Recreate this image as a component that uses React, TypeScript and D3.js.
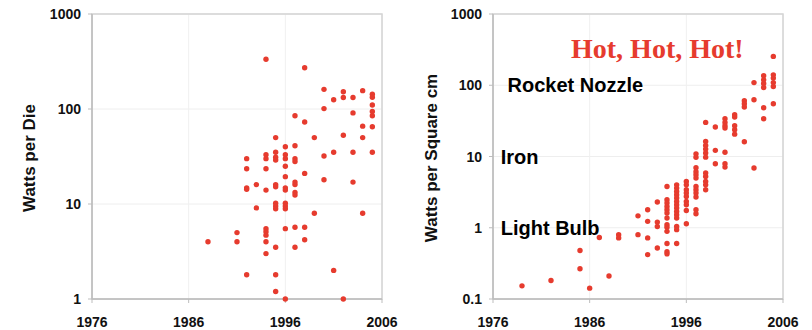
import React from "react";
import * as d3 from "d3";

const yearTicks = [1976, 1986, 1996, 2006];
const dieTicks = [1, 10, 100, 1000];
const densityTicks = [0.1, 1, 10, 100, 1000];
const densityTickLabels = ["0.1", "1", "10", "100", "1000"];

const wattsPerDie: [number, number][] = [
  [1994, 334], [1998, 272],
  [2000, 161], [2002, 152], [2004, 156], [2005, 143], [2005, 133], [2001, 125], [2002, 132], [2003, 132],
  [2005, 110], [2000, 101], [2005, 94], [2003, 91], [2005, 85], [1997, 85], [1998, 73], [2004, 66], [2005, 65],
  [1995, 50], [1999, 50], [2002, 53], [2004, 50],
  [1996, 40], [1997, 41],
  [1995, 35], [2000, 32], [2001, 35], [2003, 35], [2005, 35],
  [1992, 30], [1994, 33], [1994, 30], [1995, 31], [1995, 29], [1996, 33], [1996, 30], [1997, 30], [1997, 28],
  [1996, 25], [1992, 23.5], [1994, 23.5],
  [1998, 21], [1996, 19.4], [2000, 18], [2003, 17],
  [1993, 16], [1992, 14.8], [1992, 14.3], [1994, 14], [1995, 16], [1995, 15.2], [1996, 14.8], [1996, 14],
  [1997, 17], [1997, 16], [1997, 13.2], [1997, 12.4],
  [1993, 9.1], [1995, 10.2], [1995, 9.5], [1995, 8.9], [1996, 10.2], [1996, 9.5], [1996, 8.9], [1999, 8], [2004, 8],
  [1991, 5], [1991, 4], [1988, 4],
  [1994, 5.5], [1994, 5.1], [1994, 4.7], [1994, 4], [1994, 3], [1995, 3.5], [1996, 5.5], [1997, 5.7], [1998, 5.7],
  [1997, 3.5], [1998, 4.2],
  [1992, 1.8], [1995, 1.8], [2001, 2], [1995, 1.2], [1996, 1], [2002, 1],
];

const wattsPerSqCm: [number, number][] = [
  [1979, 0.153], [1982, 0.182], [1985, 0.48], [1985, 0.266], [1986, 0.142], [1987, 0.73], [1988, 0.21],
  [1989, 0.8], [1989, 0.72],
  [1991, 1.47], [1991, 0.8],
  [1992, 1.79], [1992, 1.23], [1992, 0.72], [1992, 0.42],
  [1993, 2.3], [1993, 1.2], [1993, 1.04], [1993, 0.52],
  [1994, 3.8], [1994, 2.47], [1994, 2.22], [1994, 1.99], [1994, 1.79], [1994, 1.61], [1994, 1.37], [1994, 1.1],
  [1994, 1.02], [1994, 0.89], [1994, 0.6], [1994, 0.46], [1994, 0.43],
  [1995, 4.0], [1995, 3.6], [1995, 3.23], [1995, 2.9], [1995, 2.61], [1995, 2.34], [1995, 2.1], [1995, 1.89],
  [1995, 1.69], [1995, 1.52], [1995, 1.37], [1995, 1.04], [1995, 0.94], [1995, 0.6],
  [1996, 4.47], [1996, 4.0], [1996, 3.42], [1996, 3.07], [1996, 2.75], [1996, 2.34], [1996, 2.1], [1996, 1.75], [1996, 1.14],
  [1997, 10.9], [1997, 9.75], [1997, 6.95], [1997, 6.11], [1997, 5.55], [1997, 4.99], [1997, 3.8], [1997, 3.41],
  [1997, 3.07], [1997, 2.7], [1997, 1.79], [1997, 1.57],
  [1998, 30.1], [1998, 16.3], [1998, 14.3], [1998, 12.7], [1998, 11.2], [1998, 9.8], [1998, 5.86], [1998, 5.25],
  [1998, 4.47], [1998, 4.0], [1998, 3.41],
  [1999, 25.9], [1999, 12.2], [1999, 7.91],
  [2000, 33.9], [2000, 30.1], [2000, 27.0], [2000, 25.1], [2000, 11.5], [2000, 7.91], [2000, 7.1],
  [2001, 38.5], [2001, 35.8], [2001, 27.0], [2001, 23.7], [2001, 20.6],
  [2002, 60.6], [2002, 55], [2002, 49.4], [2002, 16.1],
  [2003, 109], [2003, 62.6], [2003, 6.9],
  [2004, 136], [2004, 119], [2004, 106], [2004, 93], [2004, 48.3], [2004, 33.9],
  [2005, 254], [2005, 140], [2005, 126], [2005, 109], [2005, 96], [2005, 55],
];

const annotations = [
  { text: "Rocket Nozzle", year: 1977.5, value: 100 },
  { text: "Iron", year: 1976.8, value: 10 },
  { text: "Light Bulb", year: 1976.8, value: 1 },
];

const RED = "#e63b2e";
const FONT = "'Liberation Sans', Arial, Helvetica, sans-serif";

type PanelProps = {
  x0: number;
  x1: number;
  yDomain: [number, number];
  ticks: number[];
  tickLabels: string[];
  data: [number, number][];
  title: string;
  titleX: number;
  children?: (x: any, y: any) => React.ReactNode;
};

function Panel({ x0, x1, yDomain, ticks, tickLabels, data, title, titleX, children }: PanelProps) {
  const top = 14;
  const bottom = 299;
  const x = d3.scaleLinear().domain([1976, 2006]).range([x0, x1]);
  const y = d3.scaleLog().domain(yDomain).range([bottom, top]);
  return (
    <g>
      {ticks.map((t) => (
        <line key={"gy" + t} x1={x0} x2={x1} y1={y(t)} y2={y(t)} stroke="#eeeeee" strokeWidth={1} />
      ))}
      {yearTicks.map((t) => (
        <line key={"gx" + t} x1={x(t)} x2={x(t)} y1={top} y2={bottom} stroke="#f0f0f0" strokeWidth={1} />
      ))}
      <rect x={x0} y={top} width={x1 - x0} height={bottom - top} fill="none" stroke="#d4d4d4" strokeWidth={1.5} />
      <line x1={x0} x2={x1} y1={bottom} y2={bottom} stroke="#bdbdbd" strokeWidth={1.5} />
      <line x1={x0} x2={x0} y1={top} y2={bottom} stroke="#bdbdbd" strokeWidth={1.5} />
      {ticks.map((t, i) => (
        <g key={"ty" + t}>
          <line x1={x0 - 4} x2={x0} y1={y(t)} y2={y(t)} stroke="#bdbdbd" />
          <text
            x={x0 - 11}
            y={y(t)}
            textAnchor="end"
            dominantBaseline="central"
            fontFamily={FONT}
            fontWeight="bold"
            fontSize={14}
            fill="#111"
          >
            {tickLabels[i]}
          </text>
        </g>
      ))}
      {yearTicks.map((t) => (
        <g key={"tx" + t}>
          <line x1={x(t)} x2={x(t)} y1={bottom} y2={bottom + 4} stroke="#bdbdbd" />
          <text x={x(t)} y={326.5} textAnchor="middle" fontFamily={FONT} fontWeight="bold" fontSize={14} fill="#111">
            {t}
          </text>
        </g>
      ))}
      <text
        transform={`translate(${titleX},${158}) rotate(-90)`}
        textAnchor="middle"
        dominantBaseline="central"
        fontFamily={FONT}
        fontWeight="bold"
        fontSize={17}
        fill="#111"
      >
        {title}
      </text>
      {children && children(x, y)}
      {data.map((d, i) => (
        <circle key={i} cx={x(d[0])} cy={y(d[1])} r={2.7} fill={RED} />
      ))}
    </g>
  );
}

export default function App() {
  return (
    <svg
      width={812}
      height={330}
      style={{ position: "absolute", left: 0, top: 0, background: "#fff" }}
    >
      <rect width={812} height={330} fill="#fff" />
      <Panel
        x0={92}
        x1={382}
        yDomain={[1, 1000]}
        ticks={dieTicks}
        tickLabels={dieTicks.map(String)}
        data={wattsPerDie}
        title="Watts per Die"
        titleX={29}
      />
      <Panel
        x0={493}
        x1={783}
        yDomain={[0.1, 1000]}
        ticks={densityTicks}
        tickLabels={densityTickLabels}
        data={wattsPerSqCm}
        title="Watts per Square cm"
        titleX={431}
      >
        {(x: any, y: any) => (
          <g>
            {annotations.map((a) => (
              <text
                key={a.text}
                x={x(a.year)}
                y={y(a.value)}
                dominantBaseline="central"
                fontFamily={FONT}
                fontWeight="bold"
                fontSize={20}
                fill="#000"
              >
                {a.text}
              </text>
            ))}
            <text
              x={571}
              y={58}
              fontFamily="'Liberation Serif', 'Times New Roman', serif"
              fontWeight="bold"
              fontSize={28}
              fill={RED}
            >
              Hot, Hot, Hot!
            </text>
          </g>
        )}
      </Panel>
    </svg>
  );
}
